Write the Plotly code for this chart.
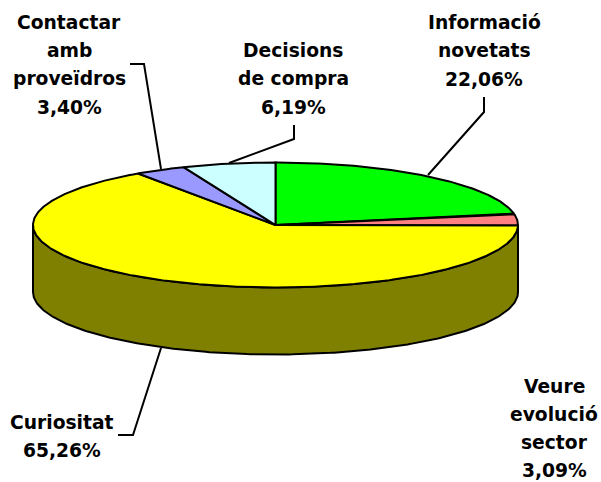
import numpy as np
import plotly.graph_objects as go

categories = ["Informació novetats", "Veure evolució sector", "Curiositat",
              "Contactar amb proveïdros", "Decisions de compra"]
values = [22.06, 3.09, 65.26, 3.40, 6.19]
colors = ["#00FF00", "#FF8080", "#FFFF00", "#9999FF", "#CCFFFF"]
side_color = "#808000"

# pie geometry in page pixels
CX, CY, RX, RY, DEPTH = 275.5, 225.0, 242.5, 62.5, 67.0

label_lines = [
    (["Contactar", "amb", "proveïdros", "3,40%"], 69, [22, 50, 78, 107]),
    (["Decisions", "de compra", "6,19%"], 293, [50, 78, 107]),
    (["Informació", "novetats", "22,06%"], 484, [22, 50, 79]),
    (["Curiositat", "65,26%"], 62, [422, 450]),
    (["Veure", "evolució", "sector", "3,09%"], 554, [386, 414, 442, 470]),
]
leaders = [
    ([130, 144, 161], [64, 64, 169]),
    ([294, 294, 229], [125, 139, 163]),
    ([484, 484, 428], [97, 112, 175]),
    ([118, 133, 161], [435, 435, 348]),
]


def ell(a, dy=0.0):
    return CX + RX * np.sin(a), CY - RY * np.cos(a) + dy


fig = go.Figure()
line = dict(color="black", width=2)

# side wall
a = np.radians(np.linspace(90, 270, 200))
xt, yt = ell(a)
xb, yb = ell(a[::-1], DEPTH)
fig.add_trace(go.Scatter(x=np.r_[xt, xb, xt[0]], y=np.r_[yt, yb, yt[0]], mode="lines",
                         fill="toself", fillcolor=side_color, line=line, hoverinfo="skip"))

# top slices, clockwise from 12 o'clock
total = sum(values)
start = 0.0
for name, v, c in zip(categories, values, colors):
    end = start + v / total * 2 * np.pi
    a = np.linspace(start, end, max(int(v * 6), 8))
    x, y = ell(a)
    fig.add_trace(go.Scatter(x=np.r_[CX, x, CX], y=np.r_[CY, y, CY], mode="lines", name=name,
                             fill="toself", fillcolor=c, line=line, hoverinfo="skip"))
    start = end

for lx, ly in leaders:
    fig.add_trace(go.Scatter(x=lx, y=ly, mode="lines", line=line, hoverinfo="skip"))

for lines, x, ys in label_lines:
    for t, y in zip(lines, ys):
        fig.add_annotation(x=x, y=y, text=f"<b>{t}</b>", showarrow=False, xanchor="center",
                           yanchor="middle", font=dict(family="DejaVu Sans", size=18.7, color="black"))

fig.update_layout(width=601, height=482, margin=dict(l=0, r=0, t=0, b=0), showlegend=False,
                  paper_bgcolor="white", plot_bgcolor="white",
                  xaxis=dict(range=[0, 601], visible=False, fixedrange=True),
                  yaxis=dict(range=[482, 0], visible=False, fixedrange=True))
fig.write_html("out.html", config={"displayModeBar": False},
               post_script="document.body.style.margin='0';")
